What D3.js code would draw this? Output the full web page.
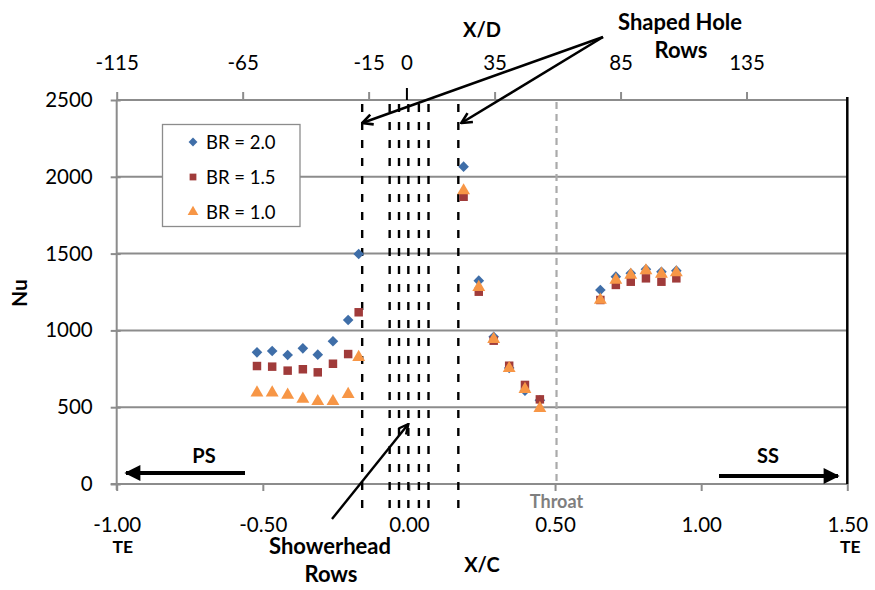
<!DOCTYPE html>
<html><head><meta charset="utf-8">
<script src="https://cdn.jsdelivr.net/npm/d3@7"></script>
<style>body{margin:0;background:#fff}svg{display:block;font-family:Lato,"Open Sans",sans-serif}</style>
</head><body><svg id="c" width="875" height="590"></svg>
<script>
// X/C positions of measurement points
const xc = [-0.52,-0.468,-0.415,-0.363,-0.312,-0.26,-0.208,-0.172,
            0.187,0.239,0.290,0.343,0.397,0.448,
            0.655,0.708,0.759,0.811,0.864,0.915];
const br20 = [857,866,840,883,842,929,1068,1497, 2066,1324,959,755,607,545, 1263,1350,1372,1398,1382,1389];
const br15 = [768,764,738,747,727,783,846,1118, 1870,1252,933,770,645,551, 1198,1296,1317,1339,1317,1339];
const br10 = [594,594,579,553,538,538,584,825, 1910,1281,942,753,617,493, 1198,1328,1361,1389,1367,1376];
const seriesNames = ["BR = 2.0","BR = 1.5","BR = 1.0"];
const xTicks = [-1.0,-0.5,0,0.5,1.0,1.5];
const xdTicks = [-115,-65,-15,0,35,85,135];
const yTicks = [0,500,1000,1500,2000,2500];
const showerRows = [-0.066,-0.034,-0.002,0.034,0.067];
const shapedRows = [-0.160,0.169];
const throatX = 0.505;

const svg = d3.select("#c");
const L=116.7, R=847.3, T=100, B=484;
const x = d3.scaleLinear().domain([-1,1.5]).range([L,R]);
const xd = d3.scaleLinear().domain([-115,175]).range([L,R]);
const y = d3.scaleLinear().domain([0,2500]).range([B,T]);
const grid="#8c8c8c";
const hy = f => d => f(d).replace("\u2212","-");

// defs
const defs = svg.append("defs");
defs.append("marker").attr("id","vhead").attr("viewBox","0 0 10 10").attr("refX",9).attr("refY",5)
  .attr("markerWidth",5).attr("markerHeight",5).attr("orient","auto").attr("markerUnits","strokeWidth")
  .append("path").attr("d","M1,1 L9,5 L1,9").attr("fill","none").attr("stroke","#000").attr("stroke-width",2);
defs.append("marker").attr("id","fhead").attr("viewBox","0 0 10 10").attr("refX",9).attr("refY",5)
  .attr("markerWidth",4.5).attr("markerHeight",4).attr("orient","auto").attr("markerUnits","strokeWidth")
  .append("path").attr("d","M0,0 L10,5 L0,10 Z").attr("fill","#000");

// gridlines
svg.append("g").selectAll("line").data(yTicks.filter(d=>d>0)).join("line")
  .attr("x1",L).attr("x2",R).attr("y1",d=>y(d)).attr("y2",d=>y(d))
  .attr("stroke",grid).attr("stroke-width",2);

// left axis
const ya = svg.append("g").attr("transform",`translate(${L},0)`)
  .call(d3.axisLeft(y).tickValues(yTicks).tickSize(6).tickPadding(18).tickFormat(d3.format("d")));
ya.select(".domain").attr("stroke",grid).attr("stroke-width",2).attr("d",`M0,${T}V${B+6}`);
ya.selectAll(".tick line").attr("stroke",grid).attr("stroke-width",2).attr("x1",4);
ya.selectAll("text").attr("font-size",20.5).attr("fill","#000").attr("font-family","Lato");

// bottom axis
const xa = svg.append("g").attr("transform",`translate(0,${B})`)
  .call(d3.axisBottom(x).tickValues(xTicks).tickSize(7).tickPadding(26).tickFormat(hy(d3.format(".2f"))));
xa.select(".domain").attr("stroke",grid).attr("stroke-width",2).attr("d",`M${L-6},0H${R}`);
xa.selectAll(".tick line").attr("stroke",grid).attr("stroke-width",2);
xa.selectAll("text").attr("font-size",20.5).attr("fill","#000").attr("font-family","Lato");

// top axis
const ta = svg.append("g").attr("transform",`translate(0,${T})`)
  .call(d3.axisTop(xd).tickValues(xdTicks).tickSize(8).tickPadding(22).tickFormat(hy(d3.format("d"))));
ta.select(".domain").attr("stroke",grid).attr("stroke-width",2).attr("d",`M${L},0H${R}`);
ta.selectAll(".tick line").attr("stroke",d=>d===0?"#000":grid).attr("stroke-width",2).attr("y2",d=>d===0?-12:-8);
ta.selectAll("text").attr("font-size",20.5).attr("fill","#000").attr("font-family","Lato");

// throat line
svg.append("line").attr("x1",x(throatX)).attr("x2",x(throatX)).attr("y1",T+2).attr("y2",B)
  .attr("stroke","#aaaaaa").attr("stroke-width",2.2).attr("stroke-dasharray","7,5");
svg.append("text").attr("x",x(throatX)).attr("y",508).attr("text-anchor","middle")
  .attr("font-size",18).attr("font-weight","bold").attr("fill","#7f7f7f").text("Throat");

// right TE line
svg.append("line").attr("x1",R).attr("x2",R).attr("y1",T-3).attr("y2",B).attr("stroke","#000").attr("stroke-width",2.5);

// dashed row lines
svg.append("g").selectAll("line").data(showerRows.concat(shapedRows)).join("line")
  .attr("x1",d=>x(d)).attr("x2",d=>x(d)).attr("y1",T+4).attr("y2",B+26)
  .attr("stroke","#000").attr("stroke-width",2.4).attr("stroke-dasharray","8,10");

// data markers
const pts = xc.map((v,i)=>({x:v,a:br20[i],b:br15[i],c:br10[i]}));
const gD = svg.append("g");
gD.selectAll("path.d").data(pts).join("path").attr("class","d")
  .attr("transform",d=>`translate(${x(d.x)},${y(d.a)})`)
  .attr("d",d3.symbol(d3.symbolDiamond2,72)).attr("fill","#3F6EA8");
gD.selectAll("path.s").data(pts).join("path").attr("class","s")
  .attr("transform",d=>`translate(${x(d.x)},${y(d.b)})`)
  .attr("d",d3.symbol(d3.symbolSquare,72)).attr("fill","#A03B3A");
gD.selectAll("path.t").data(pts).join("path").attr("class","t")
  .attr("transform",d=>`translate(${x(d.x)},${y(d.c)})`)
  .attr("d",d3.symbol(d3.symbolTriangle,72)).attr("fill","#F79646");

// legend
const lg = svg.append("g");
lg.append("rect").attr("x",162.5).attr("y",124.5).attr("width",137.5).attr("height",102)
  .attr("fill","#fff").attr("stroke","#8c8c8c").attr("stroke-width",1.3);
const legCols=["#3F6EA8","#A03B3A","#F79646"];
const legSyms=[d3.symbol(d3.symbolDiamond2,50),d3.symbol(d3.symbolSquare,46),d3.symbol(d3.symbolTriangle,50)];
seriesNames.forEach((n,i)=>{
  const yy = 142 + i*35;
  lg.append("path").attr("transform",`translate(193,${yy})`).attr("d",legSyms[i]).attr("fill",legCols[i]);
  lg.append("text").attr("x",206).attr("y",yy+6.5).attr("font-size",18.5).attr("fill","#000").text(n);
});

// titles
const bold = (t,xx,yy,fs,anchor)=>svg.append("text").attr("x",xx).attr("y",yy).attr("text-anchor",anchor||"middle")
  .attr("font-size",fs).attr("font-weight","bold").attr("fill","#000").text(t);
bold("X/D",482,37,20);
bold("X/C",482,572,20);
svg.append("text").attr("transform","translate(27,293) rotate(-90)").attr("text-anchor","middle")
  .attr("font-size",21).attr("font-weight","bold").text("Nu");
bold("TE",x(-1)+6,552.5,17.5);
bold("TE",R+3,552.5,17.5);
bold("Shaped Hole",680,30,22);
bold("Rows",681,58,22);
bold("Showerhead",330,553.5,22);
bold("Rows",331,582,22);
bold("PS",204,463,20);
bold("SS",768,463,20);

// annotation arrows
const ann = svg.append("g").attr("stroke","#000").attr("fill","none");
ann.append("line").attr("x1",603).attr("y1",37).attr("x2",x(shapedRows[0])).attr("y2",123)
  .attr("stroke-width",2.6).attr("marker-end","url(#vhead)");
ann.append("line").attr("x1",603).attr("y1",37).attr("x2",x(shapedRows[1])+3).attr("y2",123)
  .attr("stroke-width",2.6).attr("marker-end","url(#vhead)");
ann.append("line").attr("x1",332).attr("y1",519).attr("x2",x(showerRows[2])).attr("y2",424)
  .attr("stroke-width",2.4).attr("marker-end","url(#vhead)");
ann.append("line").attr("x1",245).attr("y1",473).attr("x2",126).attr("y2",473)
  .attr("stroke-width",4).attr("marker-end","url(#fhead)");
ann.append("line").attr("x1",719).attr("y1",476).attr("x2",838).attr("y2",476)
  .attr("stroke-width",4).attr("marker-end","url(#fhead)");
</script></body></html>
